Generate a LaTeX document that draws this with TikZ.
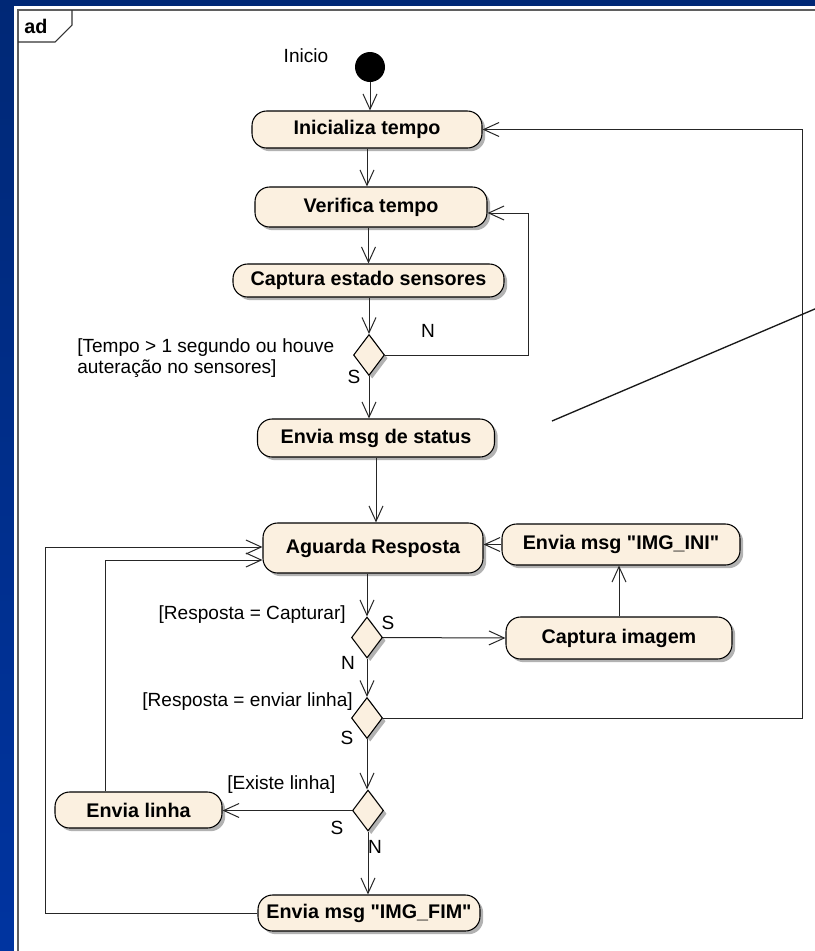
\documentclass[tikz,border=0pt]{standalone}
\usepackage{fontspec}
\setmainfont{Liberation Sans}[Ligatures=TeXOff]
\usetikzlibrary{shapes.geometric,arrows.meta,shadows}
\definecolor{actfill}{RGB}{251,240,224}
\definecolor{deskbluetop}{RGB}{0,40,118}
\definecolor{deskbluebot}{RGB}{0,52,160}
\definecolor{framegray}{RGB}{95,95,95}
\begin{document}
\begin{tikzpicture}[x=0.75pt,y=-0.75pt,
  lbl/.style={font=\fontsize{14.3}{15.5}\selectfont, inner sep=0pt},
  act/.style 2 args={rectangle, rounded corners=11pt, draw=black, line width=0.8pt,
    fill=actfill, inner sep=0pt, minimum width=#1*0.75pt, minimum height=#2*0.75pt,
    font=\fontsize{14.8}{16}\selectfont\bfseries,
    drop shadow={shadow xshift=2.4pt, shadow yshift=-2.4pt, fill=black, opacity=0.3}},
  dec/.style={diamond, draw=black, line width=0.8pt, fill=actfill, inner sep=0pt,
    minimum width=31*0.75pt, minimum height=41*0.75pt,
    drop shadow={shadow xshift=2.4pt, shadow yshift=-2.4pt, fill=black, opacity=0.3}},
  initnode/.style={circle, fill=black, inner sep=0pt, minimum size=30*0.75pt},
  arr/.style={draw=black!85, line width=0.75pt, -{Straight Barb[length=11.5pt,width=10.5pt]}},
  plain/.style={draw=black!85, line width=0.75pt}
]
\useasboundingbox (0,0) rectangle (815,951);

% desktop background and diagram sheet
\shade[top color=deskbluetop, bottom color=deskbluebot] (0,0) rectangle (815,951);
\fill[white] (14,6) rectangle (815,951);
\draw[framegray, line width=1.1pt] (18,951) -- (18,10) -- (815,10);
\draw[black!80, line width=0.8pt] (18,42) -- (55,42) -- (72,25) -- (72,10);
\node[font=\fontsize{14.8}{16}\selectfont\bfseries, inner sep=0pt] (frametag) at (36,26) {ad};

% activities and decisions
\node[initnode] (start) at (370,67) {};
\node[lbl] (tIni) at (306,56) {Inicio};
\node[act={230}{37}] (inicializa) at (367,129.5) {Inicializa tempo};
\node[act={232}{40}] (verifica) at (371,207) {Verifica tempo};
\node[act={271}{33}] (captura) at (368.5,280.5) {Captura estado sensores};
\node[dec] (d1) at (369,355) {};
\node[act={237}{38}] (status) at (376,438) {Envia msg de status};
\node[act={220}{50}] (aguarda) at (373,548) {Aguarda Resposta};
\node[act={238}{41}] (imgini) at (621,544.5) {Envia msg "IMG\_INI"};
\node[act={226}{42}] (capimg) at (619,638) {Captura imagem};
\node[dec] (d2) at (367,637.5) {};
\node[dec] (d3) at (367,718) {};
\node[dec] (d4) at (368,810.5) {};
\node[act={167}{36}] (linha) at (138.5,810) {Envia linha};
\node[act={222}{36}] (imgfim) at (369,913) {Envia msg "IMG\_FIM"};

% guards and branch labels
\node[lbl, anchor=west, align=left] (g1) at (77,358) {[Tempo > 1 segundo ou houve\\auteração no sensores]};
\node[lbl] (d1s) at (354,377) {S};
\node[lbl] (d1n) at (428,331) {N};
\node[lbl, anchor=east] (g2) at (346,615) {[Resposta = Capturar]};
\node[lbl] (d2s) at (388,623) {S};
\node[lbl] (d2n) at (348,663) {N};
\node[lbl, anchor=east] (g3) at (353,702) {[Resposta = enviar linha]};
\node[lbl] (d3s) at (347,738) {S};
\node[lbl, anchor=west] (g4) at (227,785) {[Existe linha]};
\node[lbl] (d4s) at (337,828) {S};
\node[lbl] (d4n) at (375,847) {N};

% control flow
\draw[arr] (start.south) -- (start.south |- inicializa.north);
\draw[arr] (inicializa.south) -- (inicializa.south |- verifica.north);
\draw[arr] (captura.north |- verifica.south) -- (captura.north);
\draw[arr] (captura.south -| d1.north) -- (d1.north);
\draw[arr] (d1.south) -- (d1.south |- status.north);
\draw[arr] (d1.east) -- (528,355) |- ([yshift=-4.5pt]verifica.east);
\draw[arr] (status.south) -- (status.south |- aguarda.north);
\draw[arr] (d2.north |- aguarda.south) -- (d2.north);
\draw[arr] (d2.east) -- (capimg.west);
\draw[arr] (capimg.north) -- (capimg.north |- imgini.south);
\draw[arr] (imgini.west) -- (imgini.west -| aguarda.east);
\draw[arr] (d2.south) -- (d3.north);
\draw[arr] (d3.east) -- (802,718) |- (inicializa.east);
\draw[arr] (d3.south) -- (d3.south |- d4.north);
\draw[arr] (d4.west) -- (d4.west -| linha.east);
\draw[arr] (d4.south) -- (d4.south |- imgfim.north);
\draw[arr] ([xshift=-25.1pt]linha.north) |- ([yshift=-9pt]aguarda.west);
\draw[arr] (imgfim.west) -- (45,913) |- ([yshift=0.75pt]aguarda.west);

% loose line running off the sheet
\coordinate (lnA) at (552,421);
\coordinate (lnB) at (816,308.5);
\draw[draw=black!90, line width=1pt] (lnA) -- (lnB);
\end{tikzpicture}
\end{document}
